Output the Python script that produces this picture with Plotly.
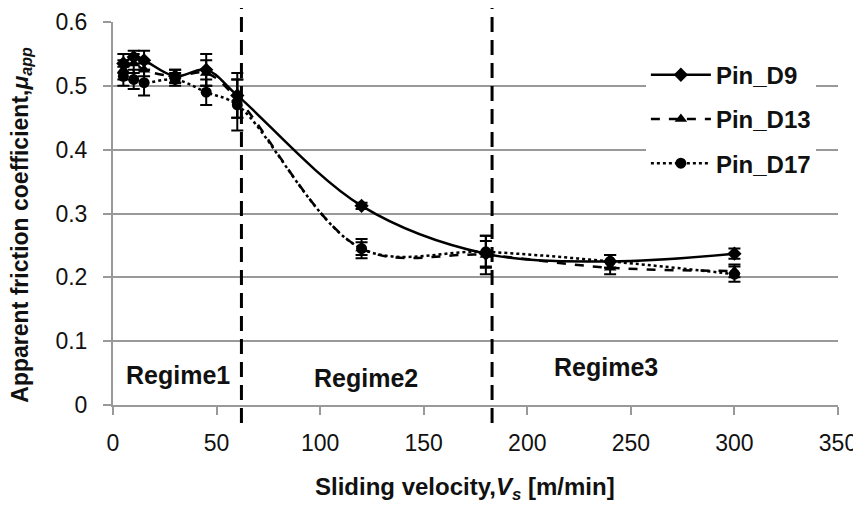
import plotly.graph_objects as go

velocity = [5, 10, 15, 30, 45, 60, 120, 180, 240, 300]
d9 = [0.535, 0.545, 0.540, 0.515, 0.525, 0.485, 0.312, 0.237, 0.225, 0.237]
d9_err = [0.015, 0.010, 0.015, 0.010, 0.025, 0.035, 0.005, 0.020, 0.010, 0.008]
d13 = [0.525, 0.535, 0.525, 0.515, 0.520, 0.480, 0.245, 0.235, 0.215, 0.210]
d13_err = [0.015, 0.015, 0.010, 0.010, 0.020, 0.030, 0.015, 0.030, 0.010, 0.010]
d17 = [0.515, 0.510, 0.505, 0.510, 0.490, 0.470, 0.245, 0.240, 0.225, 0.205]
d17_err = [0.015, 0.015, 0.020, 0.010, 0.020, 0.040, 0.010, 0.025, 0.010, 0.012]

series_names = ["Pin_D9", "Pin_D13", "Pin_D17"]
regime_bounds = [62, 183]
regime_labels = ["Regime1", "Regime2", "Regime3"]
regime_label_x = [31.5, 122, 238]
regime_label_y = [0.047, 0.042, 0.060]

x_ticks = [0, 50, 100, 150, 200, 250, 300, 350]
y_ticks = [0, 0.1, 0.2, 0.3, 0.4, 0.5, 0.6]
y_tick_text = ["0", "0.1", "0.2", "0.3", "0.4", "0.5", "0.6"]

x_title = "Sliding velocity,<i>V<sub>s</sub></i> [m/min]"
y_title = "Apparent friction coefficient,<i>μ<sub>app</sub></i>"

tick_font = dict(family="Liberation Sans, Arial", size=23, color="#111")
bold = "Liberation Sans, Arial"

fig = go.Figure()

styles = [
    (d9, d9_err, "solid", "diamond", 11),
    (d13, d13_err, "dash", "triangle-up", 11),
    (d17, d17_err, "dot", "circle", 11),
]
for name, (vals, errs, dash, sym, msize) in zip(series_names, styles):
    fig.add_trace(go.Scatter(
        x=velocity, y=vals, name=name, mode="lines+markers", legendgroup=name,
        line=dict(color="black", width=2.5, dash=dash, shape="spline", smoothing=1.0),
        marker=dict(symbol=sym, size=msize, color="black"),
        error_y=dict(type="data", array=errs, visible=True, color="black", thickness=2, width=6),
    ))

for xb in regime_bounds:
    fig.add_shape(type="line", xref="x", yref="paper", x0=xb, x1=xb, y0=-0.047, y1=1.037,
                  line=dict(color="black", width=3, dash="15px,8px"))

for lab, lx, ly in zip(regime_labels, regime_label_x, regime_label_y):
    fig.add_annotation(x=lx, y=ly, xref="x", yref="y", text=lab, showarrow=False,
                       font=dict(family=bold, size=25, color="#111", weight="bold"))

fig.add_annotation(x=0.486, y=-0.217, xref="paper", yref="paper", text=x_title, showarrow=False,
                   xanchor="center", yanchor="middle",
                   font=dict(family=bold, size=24, color="#111", weight="bold"))
fig.add_annotation(x=-0.126, y=0.47, xref="paper", yref="paper", text=y_title, showarrow=False,
                   textangle=-90, xanchor="center", yanchor="middle",
                   font=dict(family=bold, size=23, color="#111", weight="bold"))

fig.update_layout(
    width=853, height=501,
    margin=dict(l=105, r=23, t=14, b=104, autoexpand=False),
    paper_bgcolor="white", plot_bgcolor="white",
    showlegend=True,
    legend=dict(x=0.735, y=0.92, xanchor="left", yanchor="top", bgcolor="white",
                font=dict(family=bold, size=24, color="#111", weight="bold"),
                tracegroupgap=10, itemwidth=60),
    xaxis=dict(range=[0, 350], tickvals=x_ticks, ticks="outside", ticklen=8, tickcolor="#999",
               tickwidth=2, showline=True, linecolor="#999", linewidth=2, showgrid=False,
               zeroline=False, tickfont=tick_font, ticklabelstandoff=8, automargin=False),
    yaxis=dict(range=[0, 0.6], tickvals=y_ticks, ticktext=y_tick_text,
               ticks="outside", ticklen=8, tickcolor="#999", tickwidth=2,
               showline=True, linecolor="#999", linewidth=2, showgrid=True, gridcolor="#999", gridwidth=2,
               zeroline=False, tickfont=tick_font, ticklabelstandoff=11, automargin=False),
)

fig.write_html("out.html")
